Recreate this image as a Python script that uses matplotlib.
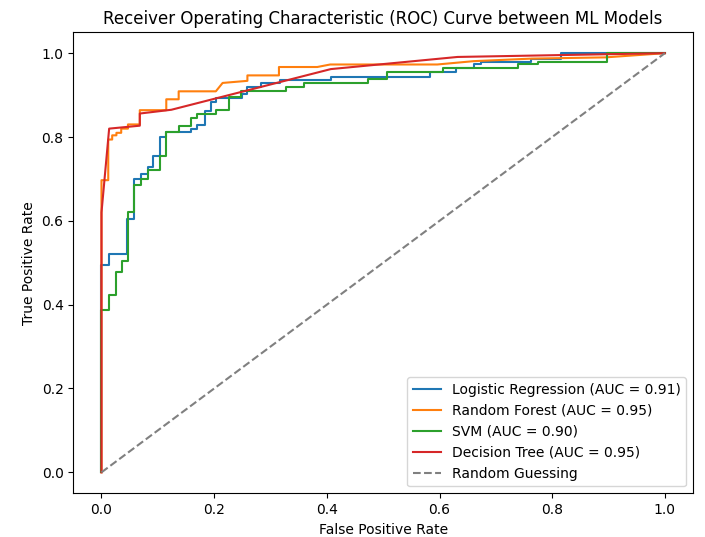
import matplotlib

matplotlib.use("Agg")
import matplotlib.pyplot as plt

# ROC points (fpr, tpr)
lr_fpr = [0, 0, 0.014, 0.014, 0.046, 0.046, 0.058, 0.058, 0.070, 0.070, 0.082, 0.082,
          0.092, 0.092, 0.103, 0.103, 0.115, 0.115, 0.159, 0.159, 0.170, 0.170, 0.183,
          0.183, 0.194, 0.194, 0.204, 0.204, 0.249, 0.249, 0.259, 0.259, 0.283, 0.283,
          0.316, 0.316, 0.407, 0.407, 0.583, 0.583, 0.629, 0.629, 0.662, 0.662, 0.674,
          0.674, 0.763, 0.763, 0.816, 0.816, 1.0]
lr_tpr = [0, 0.494, 0.494, 0.522, 0.522, 0.605, 0.605, 0.701, 0.701, 0.712, 0.712, 0.728,
          0.728, 0.755, 0.755, 0.800, 0.800, 0.811, 0.811, 0.819, 0.819, 0.828, 0.828,
          0.861, 0.861, 0.884, 0.884, 0.892, 0.892, 0.903, 0.903, 0.919, 0.919, 0.930,
          0.930, 0.937, 0.937, 0.943, 0.943, 0.955, 0.955, 0.964, 0.964, 0.975, 0.975,
          0.979, 0.979, 0.987, 0.987, 1.0, 1.0]

rf_fpr = [0, 0, 0.012, 0.012, 0.019, 0.019, 0.0265, 0.0265, 0.035, 0.035, 0.047, 0.047,
          0.068, 0.068, 0.115, 0.115, 0.137, 0.137, 0.203, 0.215, 0.259, 0.259, 0.315,
          0.315, 0.383, 0.406, 0.596, 0.661, 0.763, 0.895, 1.0]
rf_tpr = [0, 0.697, 0.697, 0.794, 0.794, 0.804, 0.804, 0.810, 0.810, 0.820, 0.820, 0.830,
          0.830, 0.864, 0.864, 0.890, 0.890, 0.909, 0.909, 0.929, 0.934, 0.947, 0.947,
          0.967, 0.967, 0.973, 0.973, 0.981, 0.987, 0.990, 1.0]

svm_fpr = [0, 0, 0.014, 0.014, 0.025, 0.025, 0.036, 0.036, 0.047, 0.047, 0.058, 0.058,
           0.070, 0.070, 0.082, 0.082, 0.103, 0.103, 0.115, 0.115, 0.137, 0.137, 0.159,
           0.159, 0.170, 0.170, 0.204, 0.204, 0.227, 0.227, 0.247, 0.247, 0.327, 0.327,
           0.360, 0.360, 0.473, 0.473, 0.507, 0.507, 0.607, 0.607, 0.739, 0.739, 0.774,
           0.774, 0.898, 0.898, 1.0]
svm_tpr = [0, 0.387, 0.387, 0.423, 0.423, 0.478, 0.478, 0.504, 0.504, 0.621, 0.621, 0.686,
           0.686, 0.701, 0.701, 0.721, 0.721, 0.755, 0.755, 0.811, 0.811, 0.827, 0.827,
           0.845, 0.845, 0.854, 0.854, 0.864, 0.864, 0.895, 0.895, 0.910, 0.910, 0.919,
           0.919, 0.930, 0.930, 0.9375, 0.9375, 0.955, 0.955, 0.964, 0.964, 0.975, 0.975,
           0.979, 0.979, 1.0, 1.0]

dt_fpr = [0, 0, 0.0136, 0.068, 0.068, 0.124, 0.407, 0.632, 1.0]
dt_tpr = [0, 0.62, 0.82, 0.827, 0.856, 0.865, 0.962, 0.991, 1.0]

models = ["Logistic Regression", "Random Forest", "SVM", "Decision Tree"]
aucs = [0.91, 0.95, 0.90, 0.95]

fig, ax = plt.subplots(figsize=(7.05, 5.37), dpi=100)
fig.subplots_adjust(left=0.104, right=0.983, bottom=0.0814, top=0.94)

curves = [(lr_fpr, lr_tpr), (rf_fpr, rf_tpr), (svm_fpr, svm_tpr), (dt_fpr, dt_tpr)]
for name, auc, (fpr, tpr) in zip(models, aucs, curves):
    ax.plot(fpr, tpr, label=f"{name} (AUC = {auc:.2f})")

ax.plot([0, 1], [0, 1], linestyle="--", color="gray", label="Random Guessing")

ax.set_xlabel("False Positive Rate")
ax.set_ylabel("True Positive Rate")
ax.set_title("Receiver Operating Characteristic (ROC) Curve between ML Models")
ax.legend(loc="lower right")

plt.savefig("out.png", dpi=100)
plt.close(fig)
